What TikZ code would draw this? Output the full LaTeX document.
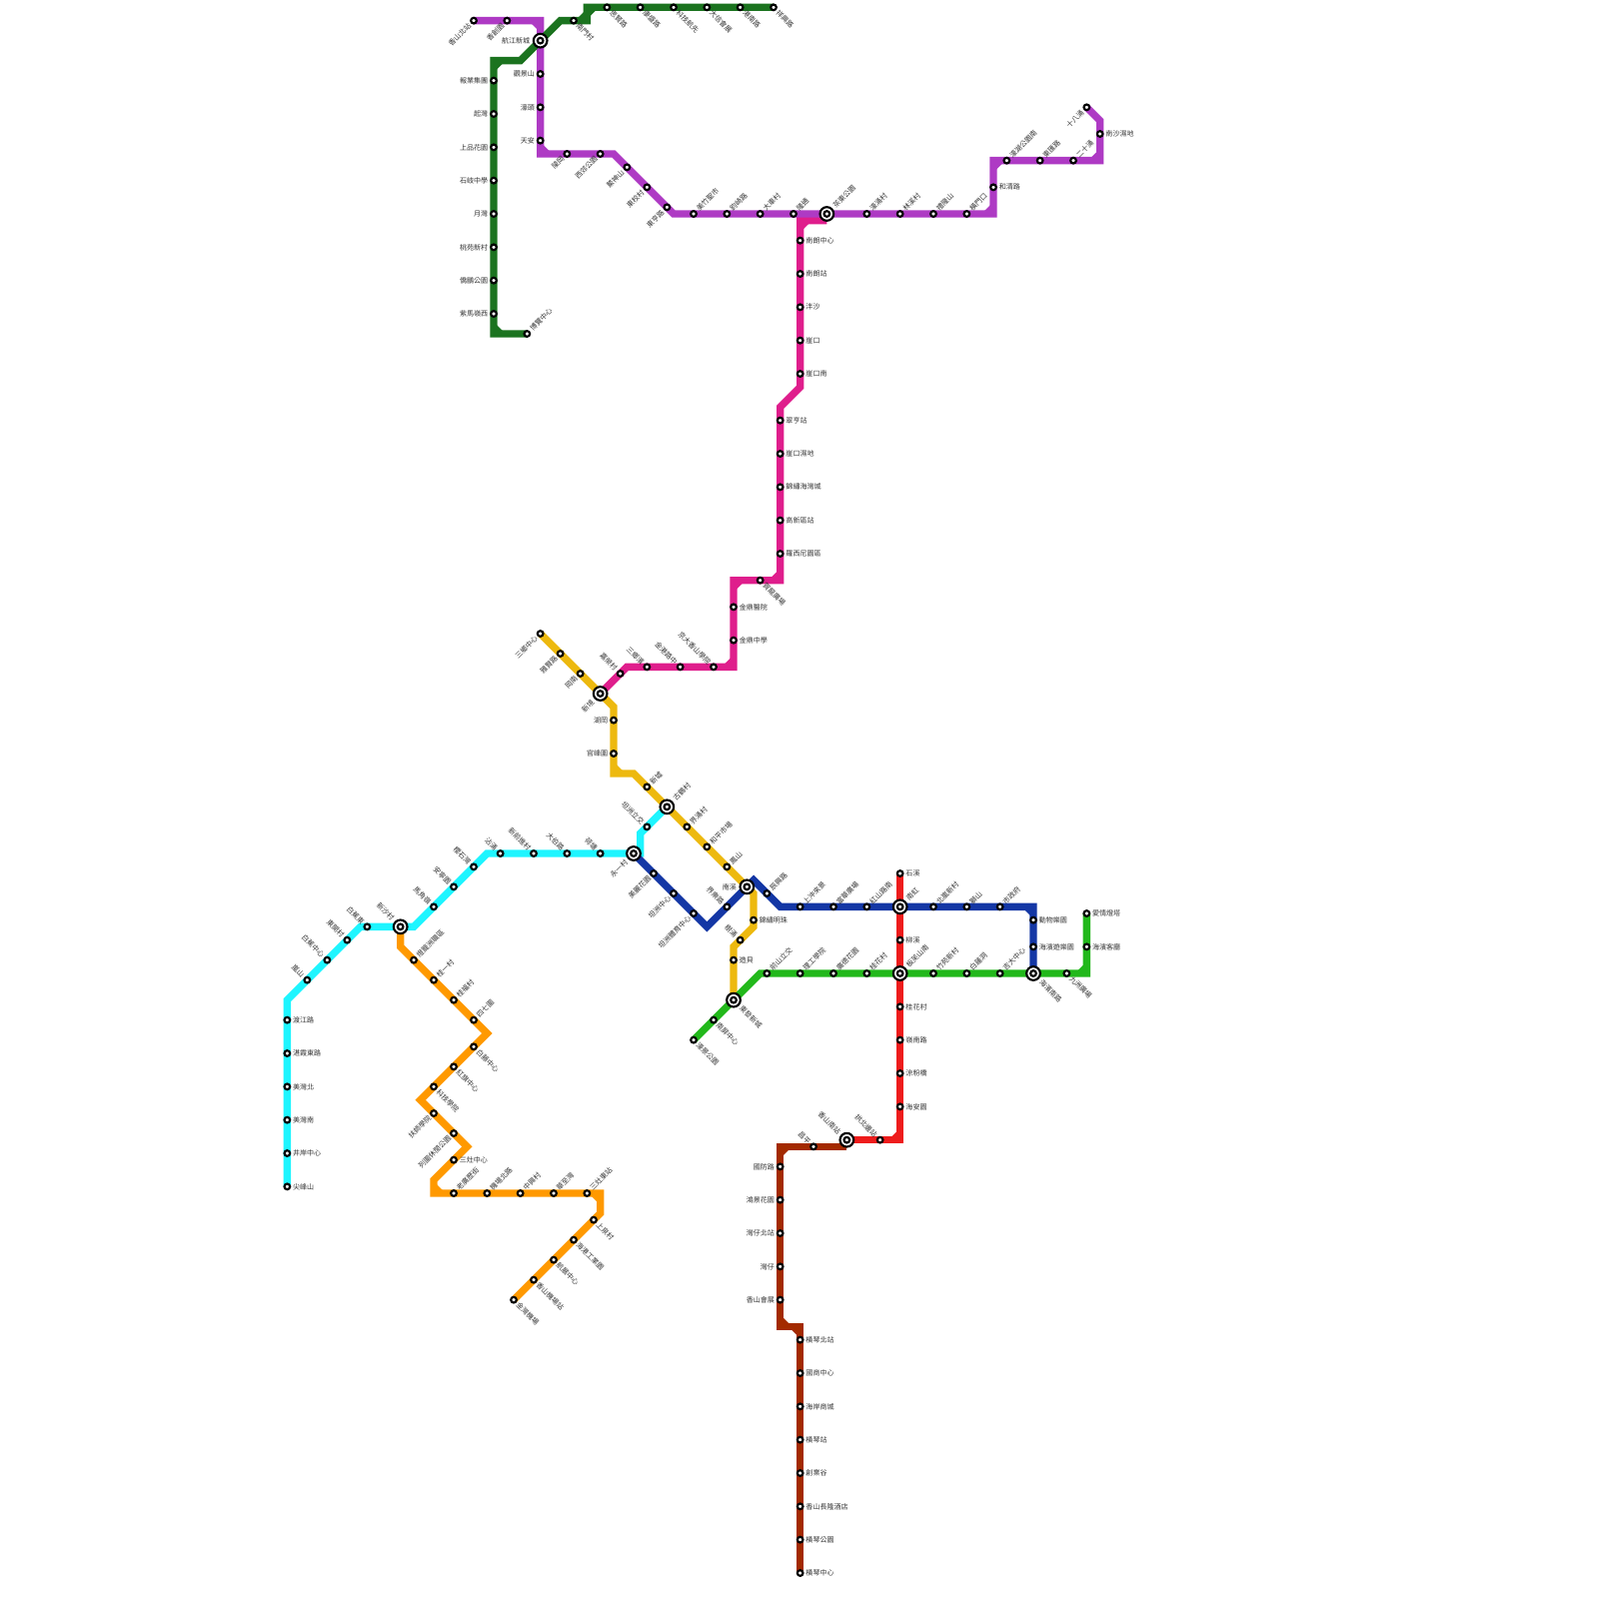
\documentclass[tikz,border=0pt]{standalone}
\usepackage{fontspec}
\newfontfamily\cjk{Noto Sans CJK TC}
\newcommand{\lblfont}{\cjk\fontsize{3}{3.4}\selectfont}

\definecolor{metroPurple}{HTML}{AE3AC4}
\definecolor{metroForest}{HTML}{1B731F}
\definecolor{metroPink}{HTML}{DF1E8C}
\definecolor{metroYellow}{HTML}{EDB90F}
\definecolor{metroCyan}{HTML}{1EF5FF}
\definecolor{metroOrange}{HTML}{FF9900}
\definecolor{metroBlue}{HTML}{1437A5}
\definecolor{metroGreen}{HTML}{22B81B}
\definecolor{metroRed}{HTML}{EE1C1C}
\definecolor{metroBrown}{HTML}{A32A00}

\pgfdeclarelayer{lines}
\pgfsetlayers{lines,main}

\tikzset{
  metro/.style={line width=1.1mm, line join=miter},
  stn/.style={circle, draw=black, fill=white, line width=0.32mm, minimum size=0.85mm, inner sep=0pt},
  stnBig/.style={circle, draw=black, fill=white, line width=0.32mm, minimum size=2.05mm, inner sep=0pt},
  lbl/.style={font=\lblfont, text=black!80, inner sep=0pt},
  lblE/.style={lbl, anchor=west, xshift=\lblgap},
  lblW/.style={lbl, anchor=east, xshift=-\lblgap},
  lblNE/.style={lbl, rotate=45, anchor=west, xshift=\lblgap},
  lblSE/.style={lbl, rotate=-45, anchor=west, xshift=\lblgap},
  lblNW/.style={lbl, rotate=-45, anchor=east, xshift=-\lblgap},
  lblSW/.style={lbl, rotate=45, anchor=east, xshift=-\lblgap}
}

\begin{document}
\begin{tikzpicture}[x=1mm, y=-1mm]
\useasboundingbox (-0.1,-0.1) rectangle (239.9,239.9);
\def\lblgap{0.8mm}

%% ---- Interchanges ----
\begin{scope}
\def\lblgap{1.5mm}
\foreach \id/\x/\y/\d/\t in {
  xHJ/81/6/W/航江新城, xCD/124/32/NE/茶東公園, xXJ/90/104/SW/新境,
  xGH/100/121/NE/古鶴村, xNX/112/133/W/南溪, xDF/110/150/SE/東發新城,
  xBF/135/146/NE/板芙山南, xNH/135/136/NE/南虹, xHN/155/146/SE/海濱南路,
  xYC/95/128/SW/永一村, xSX/60/139/NW/新沙村, xXS/127/171/NW/香山南站}
{
  \node[stnBig] (\id) at (\x,\y) {};
  \node[stn] (\id c) at (\id.center) {};
  \node[lbl\d] (\id t) at (\id.center) {\t};
}
\end{scope}

%% ---- Stations ----
\foreach \id/\x/\y/\d/\t in {
  % purple
  pu01/71/3/SW/香山北站, pu02/76/3/SW/香創園, pu03/81/11/W/觀景山, pu04/81/16/W/濠頭,
  pu05/81/21/W/天安, pu06/85/23/SW/陵岡, pu07/90/23/SW/西郊公園, pu08/94/25/SW/鰲神山,
  pu09/97/28/SW/東校村, pu10/100/31/SW/東亨路, pu11/104/32/NE/美竹聖市, pu12/109/32/NE/鈞崎路,
  pu13/114/32/NE/大車村, pu14/119/32/NE/隆通, pu15/130/32/NE/濠涌村, pu16/135/32/NE/林溪村,
  pu17/140/32/NE/禮隆山, pu18/145/32/NE/橫門口, pu19/149/28/E/和清路, pu20/151/24/NE/濠湖公園南,
  pu21/156/24/NE/東匯路, pu22/161/24/NE/二十涌, pu23/165/20/E/南沙濕地, pu24/163/16/SW/十八涌,
  % forest green
  fo01/79/50/NE/博覽中心, fo02/74/47/W/紫馬嶺西, fo03/74/42/W/僑鵬公園, fo04/74/37/W/桃苑新村,
  fo05/74/32/W/月灣, fo06/74/27/W/石岐中學, fo07/74/22/W/上品花園, fo08/74/17/W/起灣,
  fo09/74/12/W/報業集團, fo10/86/3/SE/南門村, fo11/91/1/SE/思賢路, fo12/96/1/SE/康盛路,
  fo13/101/1/SE/科技航先, fo14/106/1/SE/大信會展, fo15/111/1/SE/港南路, fo16/116/1/SE/祥興路,
  % pink
  pk01/120/36/E/南朗中心, pk02/120/41/E/南朗站, pk03/120/46/E/泮沙, pk04/120/51/E/崖口,
  pk05/120/56/E/崖口南, pk06/117/63/E/翠亨站, pk07/117/68/E/崖口濕地, pk08/117/73/E/錦繡海灣城,
  pk09/117/78/E/高新區站, pk10/117/83/E/羅西尼園區, pk11/114/87/SE/賀龍廣場, pk12/110/91/E/金鼎醫院,
  pk13/110/96/E/金鼎中學, pk14/107/100/NW/京大香山學院, pk15/102/100/NW/金港路中,
  pk16/97/100/NW/三鄉濱, pk17/93/101/NW/嘉榮村,
  % yellow
  ye01/81/95/SW/三鄉中心, ye02/84/98/SW/雅賢路, ye03/87/101/SW/岡南, ye04/92/108/W/湖岡,
  ye05/92/113/W/官峰圍, ye06/97/118/NE/新墟, ye07/103/124/NE/界涌村, ye08/106/127/NE/和平市場,
  ye09/109/130/NE/鳳山, ye10/113/138/E/錦繡明珠, ye11/111/141/NW/樹涌, ye12/110/144/E/造貝,
  % green
  gr01/104/156/SE/濠景公園, gr02/107/153/SE/南屏中心, gr03/115/146/NE/前山立交, gr04/120/146/NE/理工學院,
  gr05/125/146/NE/廣德花園, gr06/130/146/NE/桂花村, gr07/140/146/NE/竹苑新村, gr08/145/146/NE/白蓮洞,
  gr09/150/146/NE/吉大中心, gr10/160/146/SE/九洲廣場, gr11/163/142/E/海濱客廳, gr12/163/137/E/愛情燈塔,
  % blue
  bl01/98/131/SW/美麗花園, bl02/101/134/SW/坦洲中心, bl03/104/137/SW/坦洲體育中心, bl04/109/136/NW/界樂路,
  bl05/115/134/NE/辰興路, bl06/120/136/NE/上沖來景, bl07/125/136/NE/富華廣場, bl08/130/136/NE/紅山路南,
  bl09/140/136/NE/北嵐新村, bl10/145/136/NE/獅山, bl11/150/136/NE/市政府, bl12/155/138/E/動物樂園,
  bl13/155/142/E/海濱遊樂園,
  % cyan
  cy01/43/178/E/尖峰山, cy02/43/173/E/井岸中心, cy03/43/168/E/美灣南, cy04/43/163/E/美灣北,
  cy05/43/158/E/湛霞東路, cy06/43/153/E/渡江路, cy07/46/147/NW/嵐山, cy08/49/144/NW/白蕉中心,
  cy09/52/141/NW/東開村, cy10/55/139/NW/白蕉東, cy11/65/136/NW/馬角嶺, cy12/68/133/NW/安寧園,
  cy13/71/130/NW/櫻石灣, cy14/75/128/NW/沾涌, cy15/80/128/NW/新前進村, cy16/85/128/NW/大伯路,
  cy17/90/128/NW/荷塘, cy18/97/124/NW/坦洲立交,
  % orange
  or01/62/144/NE/燈籠洲職區, or02/65/147/NE/桂一村, or03/68/150/NE/桂福村, or04/71/153/NE/四七圍,
  or05/71/157/SE/白藤中心, or06/68/160/SE/紅旗中心, or07/65/163/SE/科技學院, or08/65/167/SW/扶師學院,
  or09/68/170/SW/列圍休閒公園, or10/68/174/E/三灶中心, or11/68/179/NE/老廣歷街, or12/73/179/NE/機場北路,
  or13/78/179/NE/中興村, or14/83/179/NE/華至灣, or15/88/179/NE/三灶東站, or16/89/183/SE/上泉村,
  or17/86/186/SE/海港工業園, or18/83/189/SE/航展中心, or19/80/192/SE/香山機場站, or20/77/195/SE/金灣機場,
  % red
  re01/135/131/E/石溪, re02/135/141/E/柳溪, re03/135/151/E/桂花村, re04/135/156/E/嶺南路,
  re05/135/161/E/涼粉橋, re06/135/166/E/海安園, re07/132/171/NW/拱北邊站,
  % brown
  br01/122/172/NW/昌平, br02/117/175/W/國防路, br03/117/180/W/鴻景花園, br04/117/185/W/灣仔北站,
  br05/117/190/W/灣仔, br06/117/195/W/香山會展, br07/120/201/E/橫琴北站, br08/120/206/E/國商中心,
  br09/120/211/E/海岸商城, br10/120/216/E/橫琴站, br11/120/221/E/創業谷, br12/120/226/E/香山長隆酒店,
  br13/120/231/E/橫琴公園, br14/120/236/E/橫琴中心}
{
  \node[stn] (\id) at (\x,\y) {};
  \node[lbl\d] (\id t) at (\id.center) {\t};
}

%% ---- Bends ----
\coordinate (puA) at (81,3);   \coordinate (puB) at (81,23);  \coordinate (puC) at (92,23);
\coordinate (puD) at (101,32); \coordinate (puE) at (149,32); \coordinate (puF) at (149,24);
\coordinate (puG) at (165,24); \coordinate (puH) at (165,18);
\coordinate (foA) at (74,50);  \coordinate (foB) at (74,9);   \coordinate (foC) at (78,9);
\coordinate (foD) at (84,3);   \coordinate (foE) at (88,3);   \coordinate (foF) at (88,1);
\coordinate (pkA) at (124,33); \coordinate (pkB) at (120,33); \coordinate (pkC) at (120,58);
\coordinate (pkD) at (117,61); \coordinate (pkE) at (117,87); \coordinate (pkF) at (110,87);
\coordinate (pkG) at (110,100);\coordinate (pkH) at (94,100);
\coordinate (yeA) at (92,106); \coordinate (yeB) at (92,116); \coordinate (yeC) at (95,116);
\coordinate (yeD) at (113,134);\coordinate (yeE) at (113,139);\coordinate (yeF) at (110,142);
\coordinate (grA) at (114,146);\coordinate (grB) at (163,146);
\coordinate (blA) at (106,139);\coordinate (blB) at (113,132);\coordinate (blC) at (117,136);
\coordinate (blD) at (155,136);
\coordinate (cyA) at (43,150); \coordinate (cyB) at (54,139); \coordinate (cyC) at (62,139);
\coordinate (cyD) at (73,128); \coordinate (cyE) at (96,128); \coordinate (cyF) at (96,125);
\coordinate (orA) at (60,142); \coordinate (orB) at (73,155); \coordinate (orC) at (63,165);
\coordinate (orD) at (70,172); \coordinate (orE) at (65,177); \coordinate (orF) at (65,179);
\coordinate (orG) at (90,179); \coordinate (orH) at (90,182);
\coordinate (reA) at (135,171);
\coordinate (brA) at (127,172);\coordinate (brB) at (117,172);\coordinate (brC) at (117,199);
\coordinate (brD) at (120,199);

%% ---- Lines ----
\begin{pgfonlayer}{lines}
\draw[metro, metroRed] (re01.center) -- (xNH.center) -- (re02.center) -- (xBF.center) -- (re03.center)
  -- (re04.center) -- (re05.center) -- (re06.center) -- (reA) -- (re07.center) -- (xXS.center);
\draw[metro, metroBrown] (brA) -- (br01.center) -- (brB) -- (br02.center) -- (br03.center) -- (br04.center)
  -- (br05.center) -- (br06.center) -- (brC) -- (brD) -- (br07.center) -- (br08.center) -- (br09.center)
  -- (br10.center) -- (br11.center) -- (br12.center) -- (br13.center) -- (br14.center);
\draw[metro, metroPink] (pkA) -- (pkB) -- (pk01.center) -- (pk02.center) -- (pk03.center) -- (pk04.center)
  -- (pk05.center) -- (pkC) -- (pkD) -- (pk06.center) -- (pk07.center) -- (pk08.center) -- (pk09.center)
  -- (pk10.center) -- (pkE) -- (pk11.center) -- (pkF) -- (pk12.center) -- (pk13.center) -- (pkG)
  -- (pk14.center) -- (pk15.center) -- (pk16.center) -- (pkH) -- (pk17.center) -- (xXJ.center);
\draw[metro, metroPurple] (pu01.center) -- (pu02.center) -- (puA) -- (xHJ.center) -- (pu03.center)
  -- (pu04.center) -- (pu05.center) -- (puB) -- (pu06.center) -- (pu07.center) -- (puC) -- (pu08.center)
  -- (pu09.center) -- (pu10.center) -- (puD) -- (pu11.center) -- (pu12.center) -- (pu13.center)
  -- (pu14.center) -- (xCD.center) -- (pu15.center) -- (pu16.center) -- (pu17.center) -- (pu18.center)
  -- (puE) -- (pu19.center) -- (puF) -- (pu20.center) -- (pu21.center) -- (pu22.center) -- (puG)
  -- (pu23.center) -- (puH) -- (pu24.center);
\draw[metro, metroForest] (fo01.center) -- (foA) -- (fo02.center) -- (fo03.center) -- (fo04.center)
  -- (fo05.center) -- (fo06.center) -- (fo07.center) -- (fo08.center) -- (fo09.center) -- (foB) -- (foC)
  -- (xHJ.center) -- (foD) -- (fo10.center) -- (foE) -- (foF) -- (fo11.center) -- (fo12.center)
  -- (fo13.center) -- (fo14.center) -- (fo15.center) -- (fo16.center);
\draw[metro, metroCyan] (cy01.center) -- (cy02.center) -- (cy03.center) -- (cy04.center) -- (cy05.center)
  -- (cy06.center) -- (cyA) -- (cy07.center) -- (cy08.center) -- (cy09.center) -- (cyB) -- (cy10.center)
  -- (xSX.center) -- (cyC) -- (cy11.center) -- (cy12.center) -- (cy13.center) -- (cyD) -- (cy14.center)
  -- (cy15.center) -- (cy16.center) -- (cy17.center) -- (xYC.center) -- (cyE) -- (cyF) -- (cy18.center)
  -- (xGH.center);
\draw[metro, metroYellow] (ye01.center) -- (ye02.center) -- (ye03.center) -- (xXJ.center) -- (yeA)
  -- (ye04.center) -- (ye05.center) -- (yeB) -- (yeC) -- (ye06.center) -- (xGH.center) -- (ye07.center)
  -- (ye08.center) -- (ye09.center) -- (xNX.center) -- (yeD) -- (ye10.center) -- (yeE) -- (ye11.center)
  -- (yeF) -- (ye12.center) -- (xDF.center);
\draw[metro, metroBlue] (xYC.center) -- (bl01.center) -- (bl02.center) -- (bl03.center) -- (blA)
  -- (bl04.center) -- (xNX.center) -- (blB) -- (bl05.center) -- (blC) -- (bl06.center) -- (bl07.center)
  -- (bl08.center) -- (xNH.center) -- (bl09.center) -- (bl10.center) -- (bl11.center) -- (blD)
  -- (bl12.center) -- (bl13.center) -- (xHN.center);
\draw[metro, metroGreen] (gr01.center) -- (gr02.center) -- (xDF.center) -- (grA) -- (gr03.center)
  -- (gr04.center) -- (gr05.center) -- (gr06.center) -- (xBF.center) -- (gr07.center) -- (gr08.center)
  -- (gr09.center) -- (xHN.center) -- (gr10.center) -- (grB) -- (gr11.center) -- (gr12.center);
\draw[metro, metroOrange] (xSX.center) -- (orA) -- (or01.center) -- (or02.center) -- (or03.center)
  -- (or04.center) -- (orB) -- (or05.center) -- (or06.center) -- (or07.center) -- (orC) -- (or08.center)
  -- (or09.center) -- (orD) -- (or10.center) -- (orE) -- (orF) -- (or11.center) -- (or12.center)
  -- (or13.center) -- (or14.center) -- (or15.center) -- (orG) -- (orH) -- (or16.center) -- (or17.center)
  -- (or18.center) -- (or19.center) -- (or20.center);

% inner side of the square bends
\foreach \col/\ax/\ay/\bx/\by in {
  metroPurple/80/3/81/4, metroPurple/81/22/82/23, metroPurple/148/32/149/31,
  metroPurple/149/25/150/24, metroPurple/164/24/165/23,
  metroForest/74/49/75/50, metroForest/74/10/75/9, metroForest/87/3/88/2, metroForest/88/2/89/1,
  metroPink/120/34/121/33, metroPink/116/87/117/86, metroPink/110/88/111/87, metroPink/109/100/110/99,
  metroYellow/92/115/93/116, metroGreen/162/146/163/145, metroBlue/154/136/155/137,
  metroOrange/65/178/66/179, metroOrange/89/179/90/180, metroRed/134/171/135/170,
  metroBrown/117/173/118/172, metroBrown/117/198/118/199, metroBrown/119/199/120/200}
{
  \draw[metro, \col] (\ax,\ay) -- (\bx,\by);
}
\end{pgfonlayer}

\end{tikzpicture}
\end{document}
